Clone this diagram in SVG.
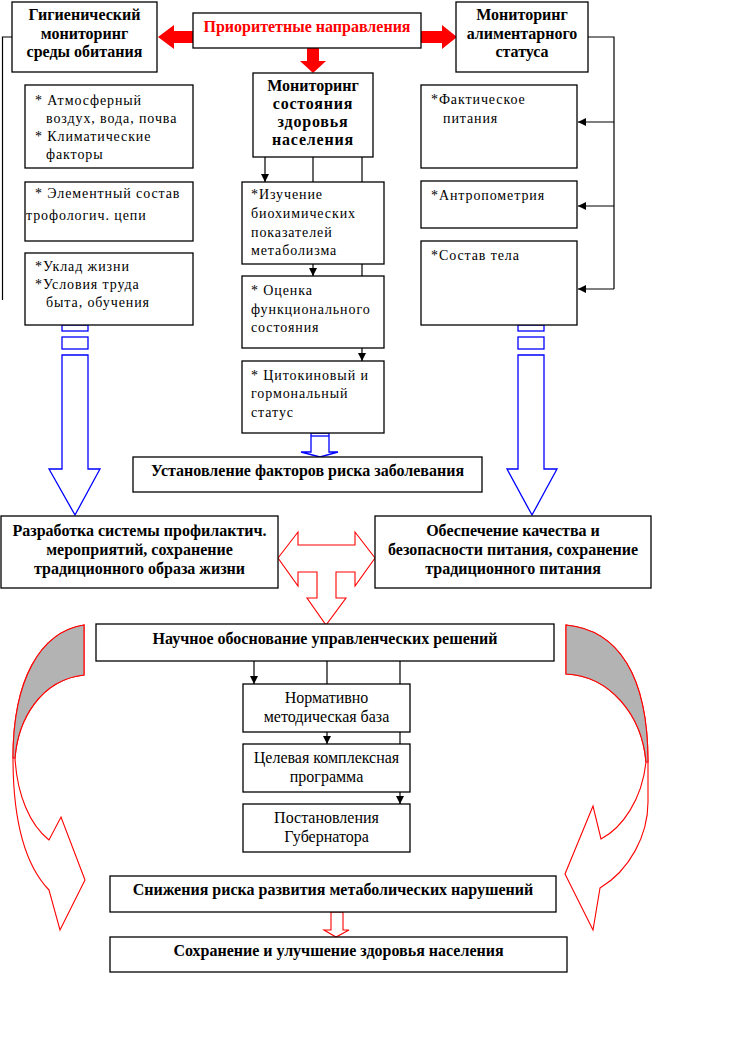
<svg xmlns="http://www.w3.org/2000/svg" width="748" height="1058" viewBox="0 0 748 1058">
<style>
.box{fill:#fff;stroke:#000;stroke-width:1.3}
.hb{font-family:"Liberation Serif","Times New Roman",serif;font-weight:bold;font-size:16px;text-anchor:middle;fill:#000}
.hr{font-family:"Liberation Serif","Times New Roman",serif;font-size:16px;text-anchor:middle;fill:#000}
.li{font-family:"Liberation Serif","Times New Roman",serif;font-size:14px;letter-spacing:0.9px;fill:#000}
.con{fill:none;stroke:#000;stroke-width:1.2}
.blue{fill:#fff;stroke:#0000ff;stroke-width:1.3}
.redo{fill:#fff;stroke:#ff0000;stroke-width:1.1}
.redf{fill:#ff0000;stroke:none}
.gray{fill:#b3b3b3;stroke:#ff0000;stroke-width:1.1}
</style>
<defs>
<marker id="ah" viewBox="0 0 10 10" refX="10" refY="5" markerWidth="8" markerHeight="8" orient="auto" markerUnits="userSpaceOnUse">
<path d="M0,0 L10,5 L0,10 z" fill="#000"/>
</marker>
</defs>
<rect width="748" height="1058" fill="#fff"/>

<g id="connectors">
<polyline class="con" points="12,37 2.5,37 2.5,300"/>
<polyline class="con" points="588,37 614,37 614,289"/>
<line class="con" x1="614" y1="122" x2="578" y2="122" marker-end="url(#ah)"/>
<line class="con" x1="614" y1="206" x2="578" y2="206" marker-end="url(#ah)"/>
<line class="con" x1="614" y1="289" x2="578" y2="289" marker-end="url(#ah)"/>
<line class="con" x1="265" y1="157" x2="265" y2="182" marker-end="url(#ah)"/>
<line class="con" x1="313" y1="157" x2="313" y2="182"/>
<line class="con" x1="362" y1="157" x2="362" y2="182"/>
<line class="con" x1="313" y1="264" x2="313" y2="276" marker-end="url(#ah)"/>
<line class="con" x1="362" y1="264" x2="362" y2="276"/>
<line class="con" x1="362" y1="348" x2="362" y2="361" marker-end="url(#ah)"/>
<line class="con" x1="254" y1="661" x2="254" y2="684" marker-end="url(#ah)"/>
<line class="con" x1="327" y1="661" x2="327" y2="684"/>
<line class="con" x1="400" y1="661" x2="400" y2="684"/>
<line class="con" x1="327" y1="732" x2="327" y2="744" marker-end="url(#ah)"/>
<line class="con" x1="400" y1="732" x2="400" y2="744"/>
<line class="con" x1="400" y1="792" x2="400" y2="804" marker-end="url(#ah)"/>
<!-- red filled arrows -->
<polygon class="redf" points="158,37 174,25 174,31 194,31 194,43 174,43 174,49"/>
<polygon class="redf" points="421,31 442,31 442,25 457,37 442,49 442,43 421,43"/>
<polygon class="redf" points="307,48 319,48 319,61 326,61 313,73 300,61 307,61"/>
<!-- blue block arrows -->
<rect class="blue" x="62" y="325" width="26" height="6"/>
<rect class="blue" x="62" y="337" width="26" height="12"/>
<polygon class="blue" points="62,355 88,355 88,469 100,469 75,515 49,469 62,469"/>
<rect class="blue" x="518" y="325" width="26" height="6"/>
<rect class="blue" x="518" y="337" width="26" height="12"/>
<polygon class="blue" points="518,355 544,355 544,469 557,469 532,515 507,469 518,469"/>
<polygon class="blue" points="311,433 329,433 329,452 338,452 320,457 301,452 311,452"/>
<line class="blue" x1="311" y1="436" x2="329" y2="436"/>
<!-- red outline arrows -->
<polygon class="redo" points="278,558 298,532 298,545 355,545 355,532 375,558 355,586 355,572 336,572 336,598 346,598 326,625 307,598 317,598 317,572 298,572 298,586"/>
<polygon class="redo" points="331,912 343,912 343,930 349,930 336,937 324,930 331,930"/>
<!-- curved arrows -->
<path class="redo" d="M84,625 C40,632 13,680 13,758 C13,820 25,865 49,890 L60,930 L85,880 L61,817 L49,840 C30,825 17,795 15,758 C18,720 40,680 84,675 Z"/>
<path class="gray" d="M84,625 C40,632 13,680 13,758 L15,758 C18,720 40,680 84,675 Z"/>
<path class="redo" d="M566,625 C618,630 648,675 648,762 L648,802 C648,835 630,870 600,888 L593,930 L565,874 L593,806 L601,839 C622,828 642,800 646,762 C642,715 610,676 566,674 Z"/>
<path class="gray" d="M566,625 C618,630 648,675 648,762 L646,762 C642,715 610,676 566,674 Z"/>
</g>

<g id="n-gig">
<rect class="box" x="12" y="2" width="145" height="70"/>
<text class="hb" x="84.5" y="20">Гигиенический</text>
<text class="hb" x="84.5" y="39">мониторинг</text>
<text class="hb" x="84.5" y="57">среды обитания</text>
</g>
<g id="n-prior">
<rect class="box" x="193" y="13" width="228" height="35"/>
<text class="hb" x="307" y="32" style="fill:#ff0000">Приоритетные направления</text>
</g>
<g id="n-alim">
<rect class="box" x="456" y="2" width="132" height="70"/>
<text class="hb" x="522" y="20">Мониторинг</text>
<text class="hb" x="522" y="39">алиментарного</text>
<text class="hb" x="522" y="57">статуса</text>
</g>
<g id="n-health">
<rect class="box" x="253" y="73" width="120" height="84"/>
<text class="hb" x="313" y="91">Мониторинг</text>
<text class="hb" x="313" y="109" letter-spacing="0.8">состояния</text>
<text class="hb" x="313" y="127" letter-spacing="0.8">здоровья</text>
<text class="hb" x="313" y="145" letter-spacing="0.8">населения</text>
</g>

<g id="n-l1">
<rect class="box" x="25" y="85" width="168" height="83"/>
<text class="li" x="35" y="105">* Атмосферный</text>
<text class="li" x="46" y="123">воздух, вода, почва</text>
<text class="li" x="35" y="141">* Климатические</text>
<text class="li" x="46" y="159">факторы</text>
</g>
<g id="n-l2">
<rect class="box" x="25" y="182" width="168" height="59"/>
<text class="li" x="35" y="198">* Элементный состав</text>
<text class="li" x="26" y="220">трофологич. цепи</text>
</g>
<g id="n-l3">
<rect class="box" x="25" y="253" width="168" height="72"/>
<text class="li" x="35" y="271">*Уклад жизни</text>
<text class="li" x="35" y="289">*Условия труда</text>
<text class="li" x="46" y="307">быта, обучения</text>
</g>

<g id="n-m1">
<rect class="box" x="242" y="182" width="142" height="82"/>
<text class="li" x="251" y="199">*Изучение</text>
<text class="li" x="251" y="218">биохимических</text>
<text class="li" x="251" y="237">показателей</text>
<text class="li" x="251" y="255">метаболизма</text>
</g>
<g id="n-m2">
<rect class="box" x="242" y="276" width="142" height="72"/>
<text class="li" x="251" y="295">* Оценка</text>
<text class="li" x="251" y="314">функционального</text>
<text class="li" x="251" y="332">состояния</text>
</g>
<g id="n-m3">
<rect class="box" x="242" y="361" width="142" height="72"/>
<text class="li" x="251" y="380">* Цитокиновый и</text>
<text class="li" x="251" y="398">гормональный</text>
<text class="li" x="251" y="417">статус</text>
</g>

<g id="n-r1">
<rect class="box" x="421" y="85" width="156" height="83"/>
<text class="li" x="431" y="104">*Фактическое</text>
<text class="li" x="443" y="123">питания</text>
</g>
<g id="n-r2">
<rect class="box" x="421" y="181" width="156" height="47"/>
<text class="li" x="431" y="200">*Антропометрия</text>
</g>
<g id="n-r3">
<rect class="box" x="421" y="241" width="156" height="84"/>
<text class="li" x="431" y="260">*Состав тела</text>
</g>

<g id="n-risk">
<rect class="box" x="133" y="457" width="349" height="35"/>
<text class="hb" x="307.5" y="476">Установление факторов риска заболевания</text>
</g>
<g id="n-prof">
<rect class="box" x="1" y="516" width="277" height="72"/>
<text class="hb" x="139.5" y="536">Разработка системы профилактич.</text>
<text class="hb" x="139.5" y="555">мероприятий, сохранение</text>
<text class="hb" x="139.5" y="574">традиционного образа жизни</text>
</g>
<g id="n-food">
<rect class="box" x="375" y="516" width="276" height="72"/>
<text class="hb" x="513" y="536">Обеспечение качества и</text>
<text class="hb" x="513" y="555">безопасности питания, сохранение</text>
<text class="hb" x="513" y="574">традиционного питания</text>
</g>
<g id="n-sci">
<rect class="box" x="96" y="624" width="458" height="37"/>
<text class="hb" x="325" y="644">Научное обоснование управленческих решений</text>
</g>
<g id="n-norm">
<rect class="box" x="243" y="684" width="167" height="48"/>
<text class="hr" x="326.5" y="703">Нормативно</text>
<text class="hr" x="326.5" y="722">методическая база</text>
</g>
<g id="n-prog">
<rect class="box" x="243" y="744" width="167" height="48"/>
<text class="hr" x="326.5" y="763">Целевая комплексная</text>
<text class="hr" x="326.5" y="782">программа</text>
</g>
<g id="n-gub">
<rect class="box" x="243" y="804" width="167" height="48"/>
<text class="hr" x="326.5" y="823">Постановления</text>
<text class="hr" x="326.5" y="842">Губернатора</text>
</g>
<g id="n-reduce">
<rect class="box" x="110" y="876" width="446" height="36"/>
<text class="hb" x="333" y="895">Снижения риска развития метаболических нарушений</text>
</g>
<g id="n-save">
<rect class="box" x="110" y="937" width="457" height="35"/>
<text class="hb" x="338.5" y="956">Сохранение и улучшение здоровья населения</text>
</g>
</svg>
